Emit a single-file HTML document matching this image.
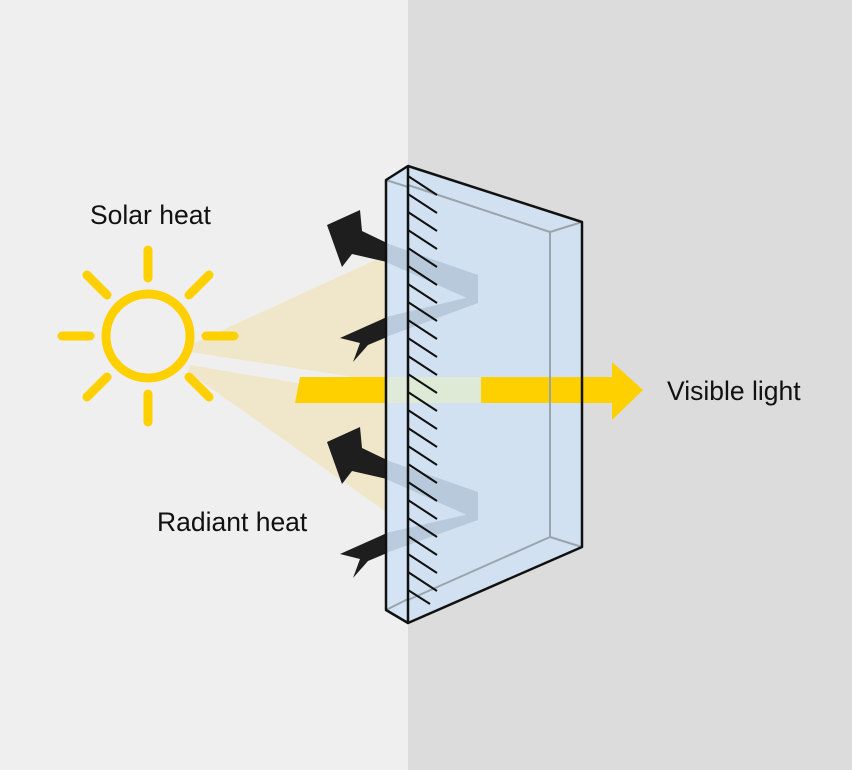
<!DOCTYPE html>
<html><head><meta charset="utf-8"><style>
html,body{margin:0;padding:0;}
body{width:852px;height:770px;overflow:hidden;}
svg{display:block;}
text{font-family:"Liberation Sans",sans-serif;font-size:26.5px;fill:#111;}
</style></head><body>
<svg width="852" height="770" viewBox="0 0 852 770" xmlns="http://www.w3.org/2000/svg">
<rect x="0" y="0" width="408" height="770" fill="#efefef"/>
<rect x="408" y="0" width="444" height="770" fill="#dcdcdc"/>
<polygon points="190,345 386,255 386,382 190,352" fill="#f0e4bf" opacity="0.75"/>
<polygon points="190,365 386,398 386,512 188,372" fill="#f0e4bf" opacity="0.75"/>
<g stroke="#ffd000" stroke-linecap="round" fill="none">
<circle cx="148" cy="336" r="42" stroke-width="9"/>
<g stroke-width="9">
<line x1="148" y1="250" x2="148" y2="278"/>
<line x1="148" y1="394" x2="148" y2="422"/>
<line x1="62" y1="336" x2="90" y2="336"/>
<line x1="206" y1="336" x2="234" y2="336"/>
<line x1="87" y1="275" x2="107" y2="295"/>
<line x1="189" y1="377" x2="209" y2="397"/>
<line x1="209" y1="275" x2="189" y2="295"/>
<line x1="107" y1="377" x2="87" y2="397"/>
</g></g>
<polygon points="300,377 386,377 386,403 295,403" fill="#ffd000"/>
<g fill="#1e1e1e">
<polygon points="387,243 362,231 360,210 327,225 342,267 352,254 387,262"/>
<polygon points="387,460 362,448 360,427 327,442 342,484 352,471 387,479"/>
<polygon points="340,338 387,317 387,337 368,345 353,362 360,343"/>
<polygon points="340,554 387,533 387,553 368,561 353,578 360,559"/>
</g>
<polygon points="386,180 408,166 582,222 582,547 408,623 386,610" fill="#cfe2f5" opacity="0.85"/>
<g fill="#8a9fb5" opacity="0.35">
<polygon points="386,243 478,275 478,303 386,262"/>
<polygon points="386,317 478,295 478,303 386,337"/>
<polygon points="386,460 478,492 478,520 386,479"/>
<polygon points="386,533 478,512 478,520 386,553"/>
</g>
<rect x="386" y="377" width="95" height="26" fill="#e6efc4" opacity="0.6"/>
<polygon points="481,377 612,377 612,362 643,390 612,420 612,403 481,403" fill="#ffd000"/>
<g stroke="#9aa4ad" stroke-width="2" fill="none">
<polyline points="408,185 550,232 550,537 408,600"/>
<line x1="550" y1="232" x2="582" y2="222"/>
<line x1="550" y1="537" x2="582" y2="547"/>
<line x1="386" y1="180" x2="408" y2="187"/>
<line x1="386" y1="610" x2="408" y2="599"/>
</g>
<g stroke="#111" stroke-width="2">
<line x1="408" y1="176" x2="437" y2="195"/>
<line x1="408" y1="194" x2="437" y2="213"/>
<line x1="408" y1="212" x2="437" y2="231"/>
<line x1="408" y1="230" x2="437" y2="249"/>
<line x1="408" y1="248" x2="437" y2="267"/>
<line x1="408" y1="266" x2="437" y2="285"/>
<line x1="408" y1="284" x2="437" y2="303"/>
<line x1="408" y1="302" x2="437" y2="321"/>
<line x1="408" y1="320" x2="437" y2="339"/>
<line x1="408" y1="338" x2="437" y2="357"/>
<line x1="408" y1="356" x2="437" y2="375"/>
<line x1="408" y1="374" x2="437" y2="393"/>
<line x1="408" y1="392" x2="437" y2="411"/>
<line x1="408" y1="410" x2="437" y2="429"/>
<line x1="408" y1="428" x2="437" y2="447"/>
<line x1="408" y1="446" x2="437" y2="465"/>
<line x1="408" y1="464" x2="437" y2="483"/>
<line x1="408" y1="482" x2="437" y2="501"/>
<line x1="408" y1="500" x2="437" y2="519"/>
<line x1="408" y1="518" x2="437" y2="537"/>
<line x1="408" y1="536" x2="437" y2="555"/>
<line x1="408" y1="554" x2="437" y2="573"/>
<line x1="408" y1="572" x2="437" y2="591"/>
<line x1="408" y1="590" x2="430" y2="604"/>
</g>
<g stroke="#111" stroke-width="2.5" fill="none" stroke-linejoin="round">
<polygon points="386,180 408,166 582,222 582,547 408,623 386,610"/>
<line x1="408" y1="166" x2="408" y2="623"/>
</g>
<text x="90" y="224">Solar heat</text>
<text x="157" y="531">Radiant heat</text>
<text x="667" y="400">Visible light</text>
</svg>
</body></html>
